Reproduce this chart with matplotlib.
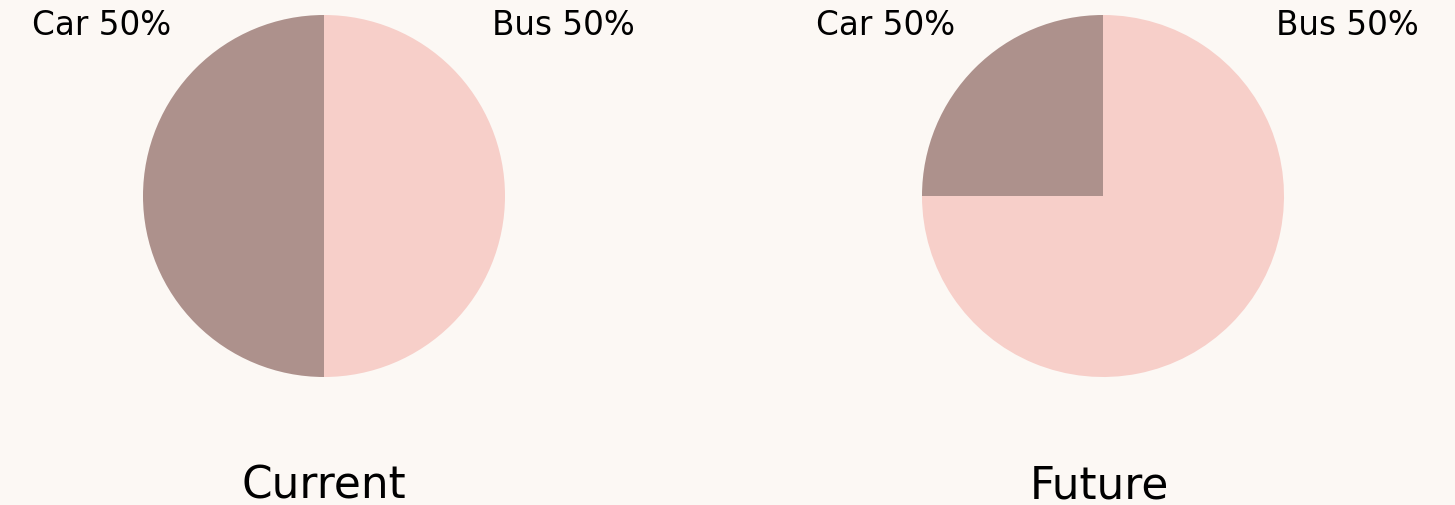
import matplotlib
matplotlib.use("Agg")
import matplotlib.pyplot as plt

# chart data
modes = ["Car", "Bus"]
current_share = [50, 50]
future_share = [25, 75]
corner_labels = ["Car 50%", "Bus 50%"]
titles = ["Current", "Future"]

colors = ["#ad918c", "#f7cfc9"]
bg = "#fcf8f4"

W, H = 1455, 506
R = 181.0  # pie radius in pixels
centers = [(324, 197), (1103, 197)]
halves = [(0, W / 2), (W / 2, W)]
# label x positions (in radius units) for each panel: car, bus, title
label_x = [(-1.23, 1.32, 0.0), (-1.20, 1.35, -0.017)]

plt.rcParams["font.family"] = ["DejaVu Sans"]
fig = plt.figure(figsize=(W / 100, H / 100), dpi=100, facecolor=bg)

for (cx, cy), (x0, x1), shares, title, (lx_car, lx_bus, lx_title) in zip(
        centers, halves, [current_share, future_share], titles, label_x):
    ax = fig.add_axes([x0 / W, 0, (x1 - x0) / W, 1])
    ax.set_facecolor(bg)
    ax.pie(shares, colors=colors, startangle=90, counterclock=True,
           wedgeprops=dict(linewidth=0))
    ax.set_aspect("auto")
    ax.set_xlim(-(cx - x0) / R, (x1 - cx) / R)
    ax.set_ylim(-(H - cy) / R, cy / R)
    ax.axis("off")

    ax.text(lx_car, 0.945, corner_labels[0], fontsize=23.5, ha="center", va="center")
    ax.text(lx_bus, 0.945, corner_labels[1], fontsize=23.5, ha="center", va="center")
    ax.text(lx_title, -1.595, title, fontsize=31.5, ha="center", va="center")

fig.savefig("out.png", dpi=100, facecolor=bg)
